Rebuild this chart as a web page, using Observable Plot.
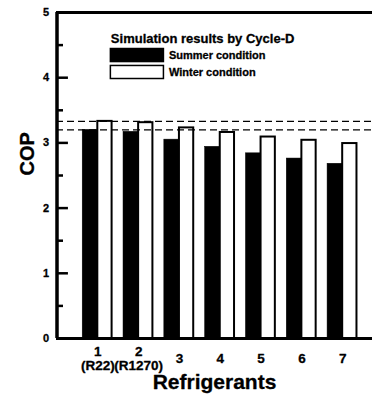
<!DOCTYPE html>
<html>
<head>
<meta charset="utf-8">
<script src="https://cdn.jsdelivr.net/npm/d3@7"></script>
<script src="https://cdn.jsdelivr.net/npm/@observablehq/plot@0.6"></script>
<style>
  html, body { margin: 0; padding: 0; background: #fff; }
  #chart { width: 372px; height: 400px; overflow: hidden; }
  #chart svg { font-family: "Liberation Sans", Arial, sans-serif; }
  #chart svg text { font-weight: bold; }
</style>
</head>
<body>
<div id="chart"></div>
<script>
// ---- data ----
const refrigerants = [1, 2, 3, 4, 5, 6, 7];
const refLabels = ["1\n(R22)", "2\n(R1270)", "3", "4", "5", "6", "7"];
const summerCOP = [3.20, 3.17, 3.05, 2.94, 2.84, 2.76, 2.68];
const winterCOP = [3.33, 3.31, 3.23, 3.16, 3.09, 3.04, 2.99];
const referenceLines = [3.33, 3.20];
const yTicks = [0, 1, 2, 3, 4, 5];
const yMinorTicks = [0.5, 1.5, 2.5, 3.5, 4.5];
const legendTitle = "Simulation results by Cycle-D";
const seriesNames = ["Summer condition", "Winter condition"];

const summer = refrigerants.map((r, i) => ({r, v: summerCOP[i]}));
const winter = refrigerants.map((r, i) => ({r, v: winterCOP[i]}));
const labels = refrigerants.map((r, i) => ({r, t: refLabels[i]}));

// legend layout (in chart units)
const legX1 = 1.32, legX2 = 2.62;
const legend = [
  {name: seriesNames[0], fill: "black", y1: 4.24, y2: 4.44},
  {name: seriesNames[1], fill: "white", y1: 3.98, y2: 4.18}
];

const bold = {fontWeight: "bold", fontFamily: "Liberation Sans, Arial, sans-serif", fill: "black", stroke: "black", strokeWidth: 0.3, paintOrder: "fill"};

const chart = Plot.plot({
  width: 372,
  height: 400,
  marginTop: 12,
  marginBottom: 62,
  marginLeft: 56,
  marginRight: 0,
  x: {type: "linear", domain: [0, 8], range: [56.5, 383], axis: null},
  y: {domain: [0, 5], axis: null},
  marks: [
    // bars
    Plot.rectY(summer, {x1: d => d.r - 0.37, x2: d => d.r, y1: 0, y2: "v", fill: "black", stroke: "black", strokeWidth: 0.5}),
    Plot.rectY(winter, {x1: d => d.r, x2: d => d.r + 0.35, y1: 0, y2: "v", fill: "white", stroke: "black", strokeWidth: 2}),
    // dashed reference lines
    Plot.ruleY(referenceLines, {stroke: "black", strokeWidth: 1.3, strokeDasharray: "7,4"}),
    // frame
    Plot.ruleY([0, 5], {stroke: "black", strokeWidth: 3}),
    Plot.ruleX([0], {stroke: "black", strokeWidth: 3.5, y1: 0, y2: 5}),
    // inward ticks
    Plot.ruleY(yTicks, {x1: 0, x2: 0.28, stroke: "black", strokeWidth: 2.5}),
    Plot.ruleY(yMinorTicks, {x1: 0, x2: 0.16, stroke: "black", strokeWidth: 2.5}),
    // y tick labels
    Plot.text(yTicks, {x: 0, y: d => d, text: d => String(d), dx: -8, textAnchor: "end", fontSize: 11, ...bold}),
    // x tick labels
    Plot.text(labels, {x: "r", y: 0, text: "t", dy: 20, lineAnchor: "middle", lineHeight: 1.08, fontSize: 13.5, ...bold}),
    // axis titles
    Plot.text(["COP"], {frameAnchor: "left", dx: -29, rotate: -90, fontSize: 20, ...bold}),
    Plot.text(["Refrigerants"], {frameAnchor: "bottom", dy: 50, fontSize: 21, ...bold}),
    // legend
    Plot.text([legendTitle], {x: legX1, y: 4.6, textAnchor: "start", fontSize: 13, ...bold}),
    Plot.rect(legend, {x1: legX1, x2: legX2, y1: "y1", y2: "y2", fill: "fill", stroke: "black", strokeWidth: 1.5}),
    Plot.text(legend, {x: legX2, y: d => (d.y1 + d.y2) / 2, text: "name", dx: 5, textAnchor: "start", fontSize: 11, ...bold})
  ]
});
document.getElementById("chart").appendChild(chart);
</script>
</body>
</html>
